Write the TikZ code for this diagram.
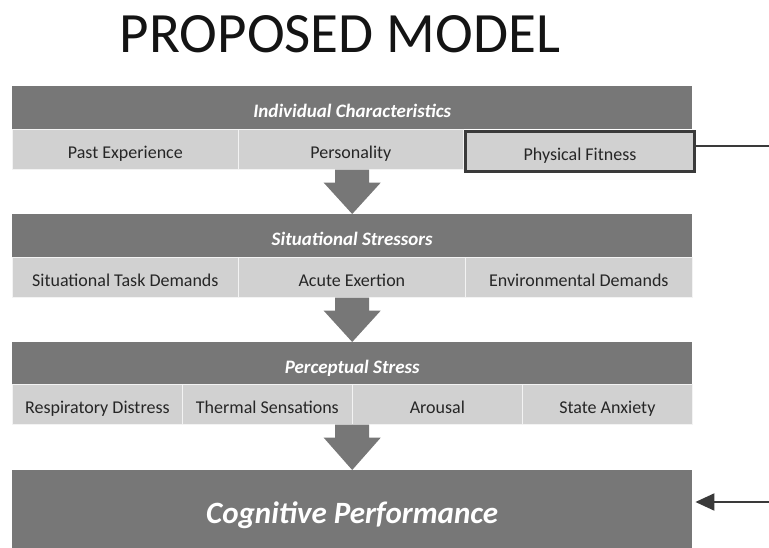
\documentclass[tikz,border=0pt]{standalone}
\usepackage{fontspec}
\setmainfont{Carlito}
\usetikzlibrary{calc,arrows.meta}
\definecolor{band}{HTML}{777777}
\definecolor{cell}{HTML}{D1D1D1}
\definecolor{ink}{HTML}{262626}
\definecolor{edge}{HTML}{3A3A3A}

% block arrow: #1 = top centre, #2 = tip
\newcommand\flowarrow[2]{%
  \fill[band] ($(#1)+(-17,0)$) -- ($(#1)+(17,0)$) -- ($(#1)+(17,13)$)
    -- ($(#1)+(28.5,13)$) -- (#2) -- ($(#1)+(-28.5,13)$)
    -- ($(#1)+(-17,13)$) -- cycle;}

\begin{document}
\begin{tikzpicture}[x=1pt,y=-1pt,
  band/.style={fill=band, draw=none, inner sep=0, anchor=north west,
    minimum width=680, minimum height=43, text=white,
    text height=19pt, text depth=0pt,
    font=\fontsize{19}{22}\selectfont\bfseries\itshape},
  cellbox/.style={fill=cell, draw=white!75!cell, line width=0.7pt,
    inner sep=0, anchor=north west, minimum height=40, text=ink,
    text height=18pt, text depth=0pt,
    font=\fontsize{18}{21}\selectfont},
  focus/.style={cellbox, draw=edge, line width=3pt},
  link/.style={draw=edge, line width=2pt}]
\useasboundingbox (0,0) rectangle (769,548);

\node[font=\fontsize{57}{60}\selectfont, text=black!92] (title) at (340,34) {PROPOSED MODEL};

% individual characteristics
\node[band] (h1) at (12,86) {Individual Characteristics};
\node[cellbox, minimum width=226] (pe) at (12,129) {Past Experience};
\node[cellbox, minimum width=225] (per) at (238,129) {Personality};
\node[focus, minimum width=229] (pf) at (464,130) {Physical Fitness};

% situational stressors
\node[band] (h2) at (12,214) {Situational Stressors};
\node[cellbox, minimum width=226] (std) at (12,257) {Situational Task Demands};
\node[cellbox, minimum width=227] (ae) at (238,257) {Acute Exertion};
\node[cellbox, minimum width=227] (ed) at (465,257) {Environmental Demands};

% perceptual stress
\node[band] (h3) at (12,342) {Perceptual Stress};
\node[cellbox, minimum width=170] (rd) at (12,384) {Respiratory Distress};
\node[cellbox, minimum width=170] (ts) at (182,384) {Thermal Sensations};
\node[cellbox, minimum width=170] (ar) at (352,384) {Arousal};
\node[cellbox, minimum width=170] (sa) at (522,384) {State Anxiety};

% outcome
\node[band, minimum height=84, text height=22pt,
  font=\fontsize{31}{34}\selectfont\bfseries\itshape]
  (cog) at (12,470) {Cognitive Performance};

% block arrows between the stages
\flowarrow{h2.north |- pe.south}{h2.north}
\flowarrow{h3.north |- std.south}{h3.north}
\flowarrow{cog.north |- rd.south}{cog.north}

% side link from fitness to performance
\coordinate (fitout) at (769,146);
\coordinate (cogin) at (769,502);
\draw[link] (pf.east |- fitout) -- (fitout);
\draw[link, -{Triangle[length=19pt, width=17pt]}, shorten >=3pt] (cogin) -- (cog.east |- cogin);
\end{tikzpicture}
\end{document}
